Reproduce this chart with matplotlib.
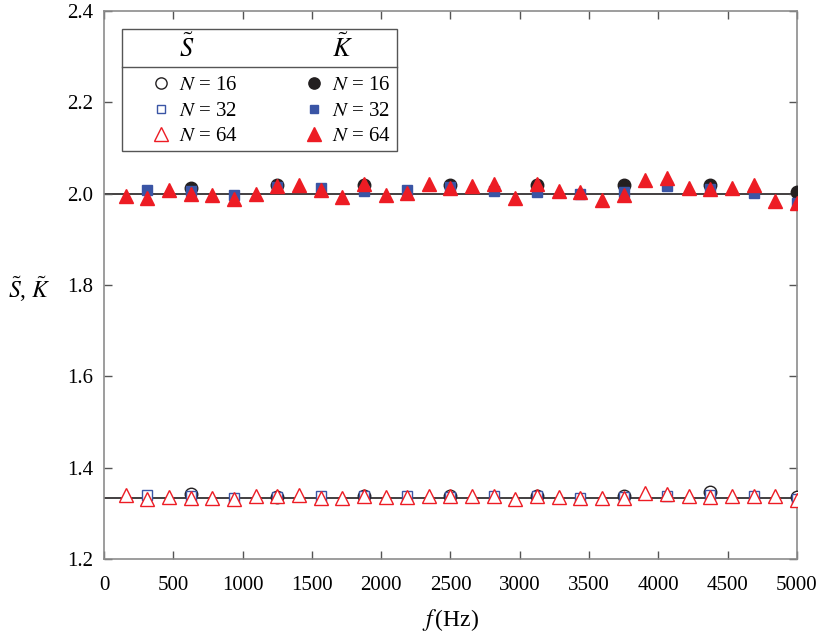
import numpy as np
import matplotlib
matplotlib.use('Agg')
from matplotlib import pyplot as plt
from matplotlib.lines import Line2D

plt.rcParams['font.family'] = ['Liberation Serif', 'DejaVu Serif']
plt.rcParams['mathtext.fontset'] = 'stix'

# bin frequencies for each record length (Hz)
f16 = np.linspace(625, 5000, 8)
f32 = np.linspace(312.5, 5000, 16)
f64 = np.linspace(156.25, 5000, 32)

# theoretical values
S_ref = 4.0 / 3.0
K_ref = 2.0

# estimated kurtosis
K16 = [2.012, 2.018, 2.018, 2.020, 2.020, 2.018, 2.018, 2.004]
K32 = [2.009, 2.005, 1.996, 2.015, 2.012, 2.006, 2.008, 2.015,
       2.006, 2.003, 2.000, 2.004, 2.017, 2.011, 2.002, 1.979]
K64 = [1.994, 1.990, 2.007, 2.000, 1.997, 1.989, 2.000, 2.016,
       2.019, 2.008, 1.992, 2.021, 1.998, 2.002, 2.022, 2.012,
       2.016, 2.022, 1.990, 2.022, 2.006, 2.004, 1.987, 1.996,
       2.031, 2.034, 2.012, 2.011, 2.012, 2.020, 1.984, 1.980]

# estimated skewness
S16 = [1.342, 1.335, 1.338, 1.337, 1.338, 1.337, 1.346, 1.335]
S32 = [1.341, 1.337, 1.333, 1.336, 1.337, 1.337, 1.337, 1.336,
       1.338, 1.337, 1.334, 1.336, 1.338, 1.340, 1.339, 1.332]
S64 = [1.341, 1.331, 1.336, 1.333, 1.334, 1.331, 1.337, 1.337,
       1.340, 1.334, 1.334, 1.338, 1.335, 1.336, 1.339, 1.337,
       1.338, 1.337, 1.332, 1.337, 1.336, 1.334, 1.333, 1.334,
       1.344, 1.342, 1.337, 1.336, 1.337, 1.338, 1.337, 1.330]

black = '#231f20'
blue = '#3a55a5'
red = '#ed1c24'
frame = '#8c8c8c'

fig = plt.figure(figsize=(8.18, 6.36), dpi=100)
ax = fig.add_axes([0.1271, 0.1211, 0.8472, 0.8616])

ax.axhline(K_ref, color=black, lw=1.2, zorder=1)
ax.axhline(S_ref, color=black, lw=1.2, zorder=1)

hK16, = ax.plot(f16, K16, 'o', color=black, ms=9, zorder=3)
hK32, = ax.plot(f32, K32, 's', color=blue, ms=7, zorder=3)
hK64, = ax.plot(f64, K64, '^', color=red, ms=10.5, zorder=3)

hS16, = ax.plot(f16, S16, 'o', mec=black, mfc='white', mew=1.0, ms=9, zorder=3)
hS32, = ax.plot(f32, S32, 's', mec=blue, mfc='white', mew=1.0, ms=7, zorder=3)
hS64, = ax.plot(f64, S64, '^', mec=red, mfc='white', mew=1.0, ms=10.5, zorder=3)

ax.set_xlim(0, 5000)
ax.set_ylim(1.2, 2.4)
ax.set_xticks(np.arange(0, 5001, 500))
yt = np.arange(1.2, 2.41, 0.2)
ax.set_yticks(yt)
ax.set_yticklabels(['%.1f' % v for v in yt])
ax.tick_params(direction='in', length=6, width=1, color='#555555',
               labelsize=15, top=True, right=True)
ax.tick_params(axis='x', pad=12)
ax.tick_params(axis='y', pad=8)
for sp in ax.spines.values():
    sp.set_color(frame)
    sp.set_linewidth(1.2)

ax.set_xlabel(r'$f\,$(Hz)', fontsize=17, va='center')
ax.xaxis.set_label_coords(0.5, -0.111)
ax.set_ylabel(r'$\tilde{S}$, $\tilde{K}$', fontsize=17, rotation=0,
              ha='center', va='center')
ax.yaxis.set_label_coords(-0.107, 0.493)

# two-column legend with a header row
blank = Line2D([], [], linestyle='none')
handles = [blank, hS16, hS32, hS64, blank, hK16, hK32, hK64]
labels = ['$\\tilde{S}$\n', r'$N$ = 16', r'$N$ = 32', r'$N$ = 64',
          '$\\tilde{K}$\n', r'$N$ = 16', r'$N$ = 32', r'$N$ = 64']
leg = ax.legend(handles, labels, ncol=2, loc='upper left',
                bbox_to_anchor=(0.0255, 0.9672), fontsize=15,
                frameon=True, fancybox=False, edgecolor='#555555',
                framealpha=1, borderpad=0.25, borderaxespad=0,
                handlelength=3.28, handletextpad=-0.77,
                columnspacing=2.0, labelspacing=0.28, markerscale=0.9)
leg.get_frame().set_linewidth(1.0)
for t in (leg.get_texts()[0], leg.get_texts()[4]):
    t.set_fontsize(19)
    t.set_linespacing(0.15)

# separator under the header row
fig.canvas.draw()
r = fig.canvas.get_renderer()
box = leg.get_frame().get_window_extent(r)
first_row = leg.get_texts()[1].get_window_extent(r)
y_sep = first_row.y1 + 9
inv = fig.transFigure.inverted()
(x0, y0), (x1, _) = inv.transform([(box.x0, y_sep), (box.x1, y_sep)])
fig.add_artist(Line2D([x0, x1], [y0, y0], transform=fig.transFigure,
                      color='#555555', lw=1.0, zorder=10))

fig.savefig('out.png', dpi=100)
